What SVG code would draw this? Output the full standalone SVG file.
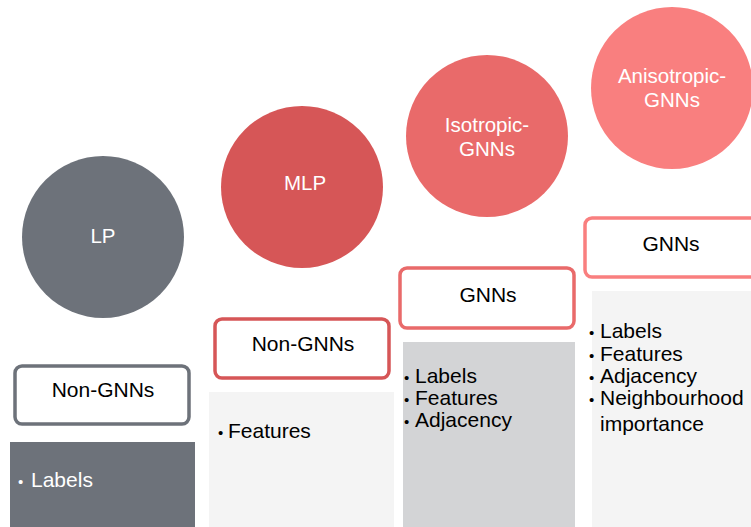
<svg xmlns="http://www.w3.org/2000/svg" width="751" height="527" viewBox="0 0 751 527">
<style>
text{font-family:"Liberation Sans",Arial,sans-serif;font-size:21px;fill:#000}
.c{fill:#fff;text-anchor:middle;font-size:20.5px}
.m{text-anchor:middle}
.b{font-size:15px}
.box{fill:#fff;stroke-width:3.5}
.w{fill:#fff}
</style>
<rect width="751" height="527" fill="#fff"/>
<g id="lp">
<circle cx="103" cy="237" r="81" fill="#6d727a"/>
<text class="c" x="103" y="243">LP</text>
</g>
<g id="mlp">
<circle cx="302" cy="187" r="81" fill="#d65657"/>
<text class="c" x="305" y="190">MLP</text>
</g>
<g id="iso">
<circle cx="487" cy="136" r="81" fill="#e96a6a"/>
<text class="c" x="487" y="132">Isotropic-</text>
<text class="c" x="487" y="156">GNNs</text>
</g>
<g id="aniso">
<circle cx="672" cy="88" r="81" fill="#f97f7f"/>
<text class="c" x="672" y="83">Anisotropic-</text>
<text class="c" x="672" y="107">GNNs</text>
</g>
<g id="box1">
<rect class="box" x="15" y="366" width="174" height="58" rx="7" stroke="#6d727a"/>
<text class="m" x="103" y="397">Non-GNNs</text>
</g>
<g id="block1">
<rect x="10" y="442" width="185" height="85" fill="#6d727a"/>
<text class="w b" x="18" y="487">•</text>
<text class="w" x="31" y="487">Labels</text>
</g>
<g id="box2">
<rect class="box" x="215" y="319" width="174" height="59" rx="7" stroke="#d65657"/>
<text class="m" x="303" y="351">Non-GNNs</text>
</g>
<g id="block2">
<rect x="209" y="392" width="185" height="135" fill="#f4f4f4"/>
<text class="b" x="218" y="438">•</text>
<text x="228" y="438">Features</text>
</g>
<g id="box3">
<rect class="box" x="400" y="268" width="174" height="60" rx="7" stroke="#e96a6a"/>
<text class="m" x="488" y="302">GNNs</text>
</g>
<g id="block3">
<rect x="403" y="342" width="172" height="185" fill="#d3d4d6"/>
<text class="b" x="404" y="383">•</text>
<text class="b" x="404" y="405">•</text>
<text class="b" x="404" y="427">•</text>
<text x="415" y="383">Labels</text>
<text x="415" y="405">Features</text>
<text x="415" y="427">Adjacency</text>
</g>
<g id="box4">
<rect class="box" x="585" y="218" width="174" height="59" rx="7" stroke="#f97f7f"/>
<text class="m" x="671" y="251">GNNs</text>
</g>
<g id="block4">
<rect x="592" y="291" width="159" height="236" fill="#f4f4f4"/>
<text class="b" x="589" y="338">•</text>
<text class="b" x="589" y="361">•</text>
<text class="b" x="589" y="383">•</text>
<text class="b" x="589" y="405">•</text>
<text x="600" y="338">Labels</text>
<text x="600" y="361">Features</text>
<text x="600" y="383">Adjacency</text>
<text x="600" y="405">Neighbourhood</text>
<text x="600" y="431">importance</text>
</g>
</svg>
